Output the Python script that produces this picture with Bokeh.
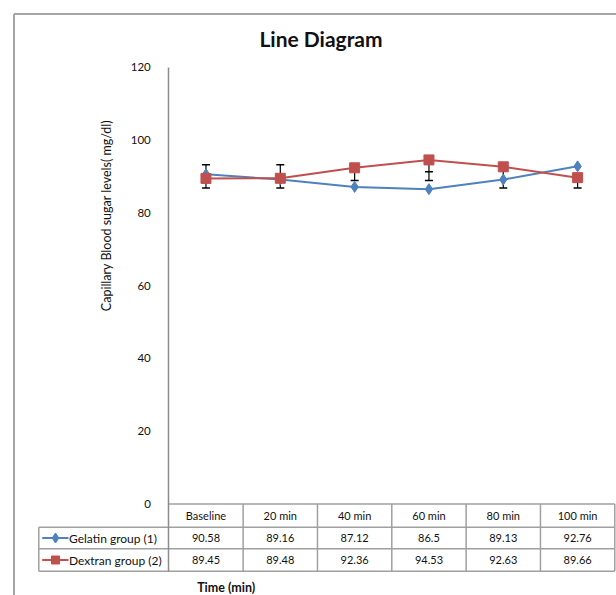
from bokeh.plotting import figure
from bokeh.models import Range1d, LinearAxis, FixedTicker, Grid
from bokeh.core.properties import value
from bokeh.embed import file_html
from bokeh.resources import INLINE

# ---------------- data ----------------
categories = ["Baseline", "20 min", "40 min", "60 min", "80 min", "100 min"]
gelatin = [90.58, 89.16, 87.12, 86.5, 89.13, 92.76]
dextran = [89.45, 89.48, 92.36, 94.53, 92.63, 89.66]
err_low = [86.8, 86.8, 88.9, 88.9, 86.8, 86.8]
err_high = [93.2, 93.2, 92.36, 94.53, 91.6, 89.66]
err_inner_cap = [None, None, None, 91.3, None, None]
y_ticks = [0, 20, 40, 60, 80, 100, 120]
series_names = ["Gelatin group (1)", "Dextran group (2)"]
title_text = "Line Diagram"
y_label = "Capillary Blood sugar levels( mg/dl)"
x_label = "Time (min)"

# ---------------- layout (canvas px) ----------------
W, H = 616, 595
FL, FT = 4, 4
AX_X = 168.3
COL_W = 74.33
Y0 = 503.5
Y120 = 66.7
SY = (Y0 - Y120) / 120.0

def dx(px):
    return (px - AX_X) / COL_W

def dy(py):
    return (Y0 - py) / SY

FONT = "Lato"
BLUE = "#4f81bd"
RED = "#c0504d"
GRID_C = "#a0a0a0"
TXT = "#111111"

p = figure(width=W, height=H,
           x_range=Range1d(dx(FL), dx(W)), y_range=Range1d(dy(H), dy(FT)),
           output_backend="svg", toolbar_location=None,
           x_axis_location=None, y_axis_location=None,
           min_border_left=FL, min_border_top=FT, min_border_right=0, min_border_bottom=0)
p.outline_line_color = None
p.center = [r for r in p.center if not isinstance(r, Grid)]

n = len(categories)
xs = [i + 0.5 for i in range(n)]

rows_px = [503.5, 526.7, 548.3, 570.7]
rows = [dy(r) for r in rows_px]
tbl_left = dx(38.3)

# outer border (left, top)
bx = dx(13.5)
by = dy(13.5)
p.segment(x0=[bx, bx], y0=[dy(H), by], x1=[bx, dx(W)], y1=[by, by], line_color="#a6a6a6", line_width=2)

# y axis
yaxis = LinearAxis(fixed_location=0, bounds=(rows[3], 120),
                   ticker=FixedTicker(ticks=y_ticks),
                   major_tick_line_color=None, minor_tick_line_color=None,
                   axis_line_color="#8c8c8c", axis_line_width=1.5,
                   major_label_standoff=12,
                   major_label_text_font=FONT, major_label_text_font_size="11.5px",
                   major_label_text_color=TXT)
p.add_layout(yaxis, "left")

# table grid
hx0 = [0, tbl_left, tbl_left, tbl_left]
hx1 = [n, n, n, n]
p.segment(x0=hx0, y0=rows, x1=hx1, y1=rows, line_color=GRID_C, line_width=1.5)
vx = list(range(1, n + 1))
p.segment(x0=vx, y0=[rows[0]] * n, x1=vx, y1=[rows[3]] * n, line_color=GRID_C, line_width=1.5)
p.segment(x0=[tbl_left], y0=[rows[1]], x1=[tbl_left], y1=[rows[3]], line_color=GRID_C, line_width=1.5)

# series lines
p.line(xs, gelatin, line_color=BLUE, line_width=2)
p.line(xs, dextran, line_color=RED, line_width=2)

# error bars
p.segment(x0=xs, y0=err_low, x1=xs, y1=err_high, line_color="black", line_width=1.2)
cap_x = xs + xs + [x for x, c in zip(xs, err_inner_cap) if c is not None]
cap_y = err_low + err_high + [c for c in err_inner_cap if c is not None]
p.scatter(cap_x, cap_y, marker="dash", size=8, line_color="black", line_width=1.5)

# markers
p.scatter(xs, gelatin, marker="diamond", size=11, fill_color=BLUE, line_color=BLUE)
p.scatter(xs, dextran, marker="square", size=10, fill_color=RED, line_color=RED)

# table texts
row_c = [(rows[i] + rows[i + 1]) / 2 for i in range(3)]
for vals, yc in ((categories, row_c[0]), ([str(v) for v in gelatin], row_c[1]),
                 ([str(v) for v in dextran], row_c[2])):
    p.text(x=xs, y=[yc] * n, text=vals, text_align="center", text_baseline="middle",
           text_font=value(FONT), text_font_size="11px", text_color=TXT)

# legend keys in table
lk0, lk1, lkm = dx(41.7), dx(68), dx(55)
p.segment(x0=[lk0, lk0], y0=[row_c[1], row_c[2]], x1=[lk1, lk1], y1=[row_c[1], row_c[2]],
          line_color=[BLUE, RED], line_width=2)
p.scatter([lkm], [row_c[1]], marker="diamond", size=10, fill_color=BLUE, line_color=BLUE)
p.scatter([lkm], [row_c[2]], marker="square", size=8, fill_color=RED, line_color=RED)
p.text(x=[dx(68.5)] * 2, y=[row_c[1], row_c[2]], text=series_names, text_align="left",
       text_baseline="middle", text_font=value(FONT), text_font_size="12px", text_color=TXT)

# title, axis labels
p.text(x=[dx(320.5)], y=[dy(38)], text=[title_text], text_align="center", text_baseline="middle",
       text_font=value(FONT), text_font_size="21px", text_font_style="bold", text_color="#111111")
p.text(x=[dx(106)], y=[dy(215)], text=[y_label], angle=1.5707963, text_align="center",
       text_baseline="middle", text_font=value(FONT), text_font_size="12.5px", text_color=TXT)
p.text(x=[dx(225.7)], y=[dy(586.5)], text=[x_label], text_align="center", text_baseline="middle",
       text_font=value(FONT), text_font_size="12.5px", text_font_style="bold", text_color=TXT)

open("out.html", "w").write(file_html(p, INLINE))
